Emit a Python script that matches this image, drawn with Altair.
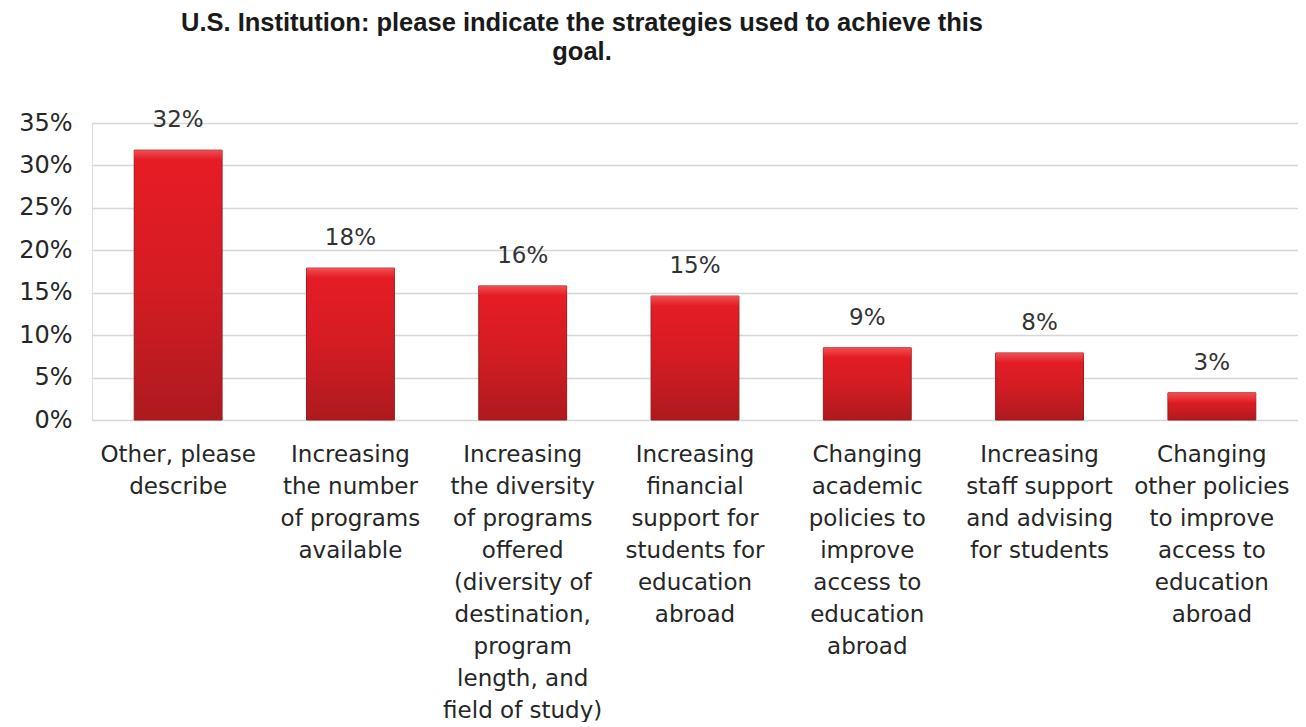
import altair as alt
import pandas as pd

categories = [
    "Other, please|describe",
    "Increasing|the number|of programs|available",
    "Increasing|the diversity|of programs|offered|(diversity of|destination,|program|length, and|field of study)",
    "Increasing|financial|support for|students for|education|abroad",
    "Changing|academic|policies to|improve|access to|education|abroad",
    "Increasing|staff support|and advising|for students",
    "Changing|other policies|to improve|access to|education|abroad",
]
values = [0.318, 0.179, 0.158, 0.146, 0.085, 0.079, 0.032]
y_ticks = [0, 0.05, 0.10, 0.15, 0.20, 0.25, 0.30, 0.35]
title_lines = ["U.S. Institution: please indicate the strategies used to achieve this", "goal."]

df = pd.DataFrame({"cat": categories, "val": values})

FONT = "DejaVu Sans"

x_enc = alt.X(
    "cat:N",
    sort=categories,
    scale=alt.Scale(paddingInner=0.49, paddingOuter=0.245),
    axis=alt.Axis(
        title=None,
        labelAngle=0,
        labelExpr="split(datum.label, '|')",
        labelFont=FONT,
        labelFontSize=23,
        labelColor="#262626",
        labelLineHeight=32,
        labelPadding=23,
        labelBaseline="top",
        labelLimit=400,
        labelOverlap=False,
        labelBound=False,
        ticks=False,
        domain=False,
        grid=False,
    ),
)
y_enc = alt.Y(
    "val:Q",
    scale=alt.Scale(domain=[0, 0.35], nice=False),
    axis=alt.Axis(
        title=None,
        values=y_ticks,
        format=".0%",
        labelFont=FONT,
        labelFontSize=24,
        labelColor="#262626",
        labelPadding=20,
        minExtent=84,
        maxExtent=84,
        ticks=False,
        domain=False,
        grid=True,
        gridColor="#d6d6d6",
        gridWidth=1.6,
    ),
)

base = alt.Chart(df)

bars = base.mark_bar(
    color=alt.Gradient(
        gradient="linear",
        x1=0, x2=0, y1=0, y2=1,
        stops=[
            alt.GradientStop(offset=0, color="#e81c25"),
            alt.GradientStop(offset=0.5, color="#d41c23"),
            alt.GradientStop(offset=1, color="#ad1a1f"),
        ],
    ),
    stroke="#9a1a1d",
    strokeWidth=1,
).encode(x=x_enc, y=y_enc)

highlight = base.transform_calculate(
    top2="datum.val - 0.011"
).mark_bar(
    color=alt.Gradient(
        gradient="linear",
        x1=0, x2=0, y1=0, y2=1,
        stops=[
            alt.GradientStop(offset=0, color="#f2575b"),
            alt.GradientStop(offset=1, color="#e41f27"),
        ],
    ),
    opacity=0.85,
).encode(x=x_enc, y="val:Q", y2="top2:Q")

labels = base.mark_text(
    font=FONT,
    fontSize=23,
    color="#333333",
    baseline="bottom",
    dy=-18,
).encode(x=x_enc, y=y_enc, text=alt.Text("val:Q", format=".0%"))

chart = (
    alt.layer(bars, highlight, labels)
    .properties(
        width=1206,
        height=297,
        title=alt.TitleParams(
            text=title_lines,
            font="Liberation Sans",
            fontSize=25.5,
            fontWeight="bold",
            color="#1a1a1a",
            anchor="middle",
            dx=-113,
            offset=44,
            lineHeight=29,
        ),
        padding={"left": 0, "right": 0, "top": 2, "bottom": 0},
    )
    .configure_view(stroke=None)
    .configure(background="white")
)

chart.save("out.html", embed_options={"renderer": "svg", "actions": False})
